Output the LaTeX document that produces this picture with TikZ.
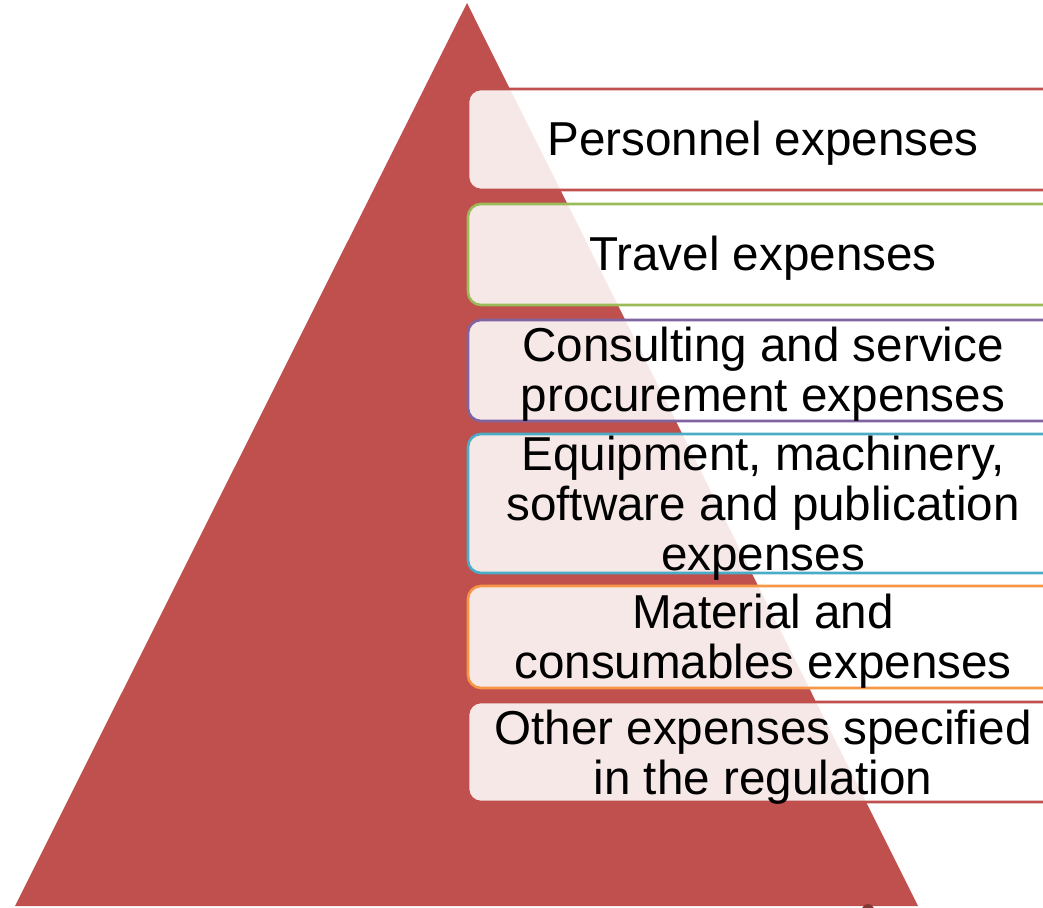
\documentclass[tikz,border=0pt]{standalone}
\usepackage{fontspec}
\setmainfont{Liberation Sans}
\definecolor{pyrred}{HTML}{C0504D}
\definecolor{bgreen}{HTML}{9BBB59}
\definecolor{bpurple}{HTML}{8064A2}
\definecolor{bblue}{HTML}{4BACC6}
\definecolor{borange}{HTML}{F79646}
\begin{document}
\begin{tikzpicture}[x=1pt,y=-1pt,
  itembox/.style={draw=#1, line width=2.6pt, fill=white, fill opacity=0.87, draw opacity=1, rounded corners=13pt},
  itemtext/.style={font=\fontsize{47.6}{50}\selectfont, align=center, inner sep=0pt, text=black}]
\useasboundingbox (0,0) rectangle (1043,907);
\clip (0,0) rectangle (1043,907);
\fill[pyrred] (467,3) coordinate (apex) -- (918,906) coordinate (br) -- (15,906) coordinate (bl) -- cycle;
\fill[pyrred!70!black] (868,910) circle[radius=6];
% boxes
\draw[itembox=pyrred] (468,89) rectangle (1070,190);
\draw[itembox=bgreen] (468,204) rectangle (1070,305);
\draw[itembox=bpurple] (468,320) rectangle (1070,421);
\draw[itembox=bblue] (468,434) rectangle (1070,573);
\draw[itembox=borange] (468,586) rectangle (1070,688);
\draw[itembox=pyrred] (468,702) rectangle (1070,802);
% texts
\node[itemtext] (t1) at (763,143) {Personnel expenses};
\node[itemtext] (t2) at (763,258) {Travel expenses};
\node[itemtext] (t3) at (763,374) {Consulting and service\\procurement expenses};
\node[itemtext] (t4) at (763,508) {Equipment, machinery,\\software and publication\\expenses};
\node[itemtext] (t5) at (763,641) {Material and\\consumables expenses};
\node[itemtext] (t6) at (763,757) {Other expenses specified\\in the regulation};
\end{tikzpicture}
\end{document}
